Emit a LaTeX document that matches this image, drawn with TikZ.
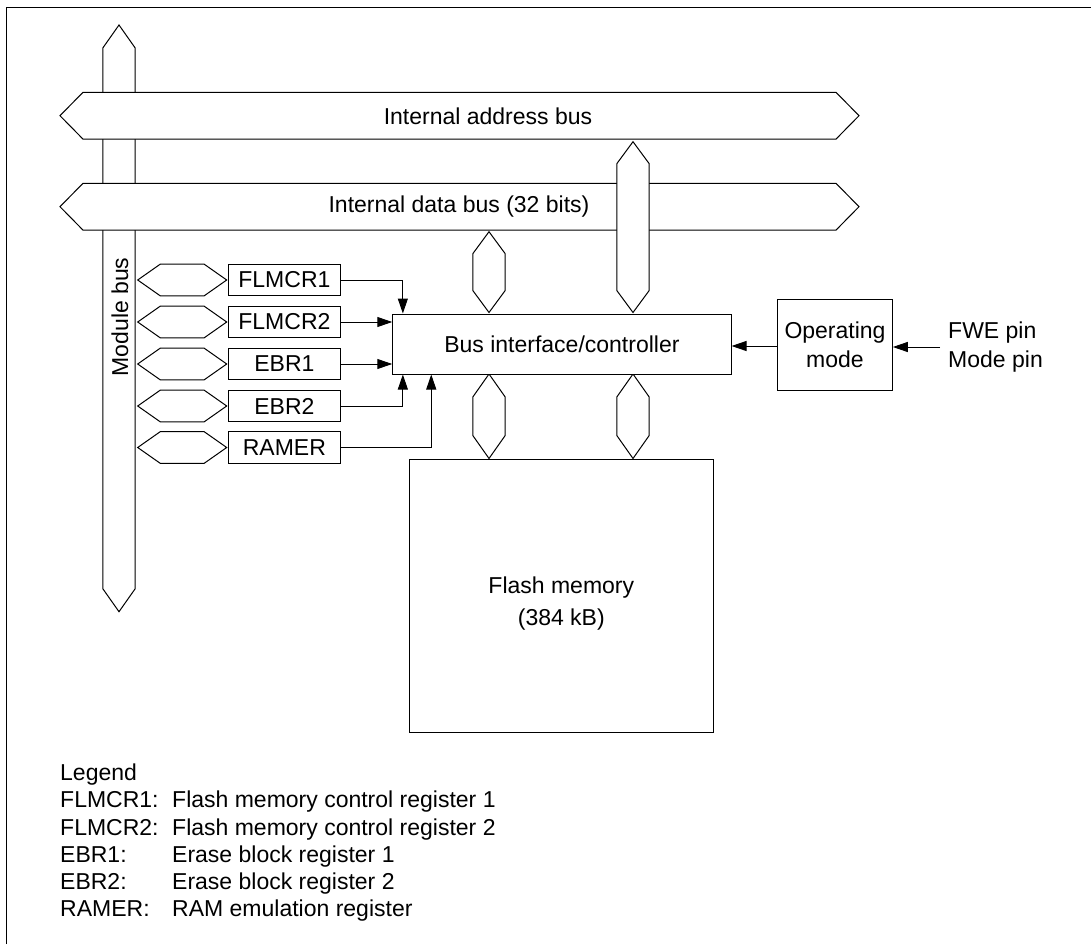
\documentclass[tikz,border=0pt]{standalone}
\usepackage{fontspec}
\setmainfont{Liberation Sans}
\usetikzlibrary{arrows.meta,positioning,calc}
\tikzset{
  bus/.style={draw, line width=1pt, fill=white, line join=miter},
  regbox/.style={draw, line width=1pt, fill=white, minimum width=111.3pt,
                 minimum height=31.7pt, inner sep=0pt},
  blockbox/.style={draw, line width=1pt, fill=white, inner sep=0pt, align=center},
  lbl/.style={inner sep=0pt, align=center},
  arr/.style={-{Triangle[length=15pt,width=10pt]}, line width=1pt}}
% horizontal bus: x left, x right, y centre, half height, tip depth
\newcommand{\hbus}[5]{\draw[bus] (#1,#3) -- (#1+#5,#3-#4) -- (#2-#5,#3-#4) -- (#2,#3)
  -- (#2-#5,#3+#4) -- (#1+#5,#3+#4) -- cycle;}
% vertical bus: y top, y bottom, x centre, half width, tip depth
\newcommand{\vbus}[5]{\draw[bus] (#3,#1) -- (#3+#4,#1+#5) -- (#3+#4,#2-#5) -- (#3,#2)
  -- (#3-#4,#2-#5) -- (#3-#4,#1+#5) -- cycle;}
\begin{document}
\begin{tikzpicture}[x=1pt, y=-1pt, font=\fontsize{23}{29}\selectfont]
    \useasboundingbox (0,0) rectangle (1091,944);
    \draw[line width=1pt] (6,944) -- (6,8) -- (1091,8);
    % buses
    \vbus{25}{611.7}{119}{16.2}{23}
    \hbus{60}{859}{115.7}{23.4}{23}
    \hbus{60}{859}{206.7}{23.4}{23}
    \vbus{141.7}{312.5}{633}{16.2}{22}
    \vbus{231.7}{312.5}{489}{16.2}{22}
    \vbus{374}{458.5}{489}{16.2}{23}
    \vbus{374}{458.5}{633}{16.2}{23}
    \node[lbl] (addrbus) at (488,116) {Internal address bus};
    \node[lbl] (databus) at (459,207) {Internal data bus (32 bits)};
    \node[lbl, rotate=90] (modbus) at (120,317) {Module bus};
    % registers
    \foreach \name/\txt/\y in {flmcr1/FLMCR1/280, flmcr2/FLMCR2/322, ebr1/EBR1/364,
                               ebr2/EBR2/406, ramer/RAMER/447.5} {
      \hbus{137.7}{226.7}{\y}{15.8}{22.5}
      \node[regbox] (\name) at (284.4,\y) {\txt};
    }
    \node[blockbox, minimum width=338.3pt, minimum height=60pt] (iface) at (561.9,344)
      {Bus interface/controller};
    \node[blockbox, minimum width=114.6pt, minimum height=90.7pt] (opmode) at (835,344.7)
      {Operating\\mode};
    \node[blockbox, minimum width=304pt, minimum height=272.7pt,
          label={[lbl, yshift=-7pt]center:{Flash memory\\[3pt](384 kB)}}] (flash) at (561.3,596.3) {};
    \node[lbl, align=left, anchor=west] (pins) at (948,347) {FWE pin\\Mode pin};
    \draw[arr] (flmcr1.east) -| ($(iface.north west)+(10.6,0)$);
    \draw[arr] (flmcr2.east) -- (flmcr2.east -| iface.west);
    \draw[arr] (ebr1.east) -- (ebr1.east -| iface.west);
    \draw[arr] (ebr2.east) -| ($(iface.south west)+(10.6,0)$);
    \draw[arr] (ramer.east) -| ($(iface.south west)+(39,0)$);
    \draw[arr] (opmode.west |- 0,346) -- (iface.east |- 0,346);
    \draw[arr] ($(pins.west)+(-8,0)$) -- (opmode.east |- pins.west);
    % legend
    \node[inner sep=0pt, anchor=base west] (legend) at (60,780.6) {Legend};
    \foreach \i/\term/\desc in {1/FLMCR1:/Flash memory control register 1,
                                2/FLMCR2:/Flash memory control register 2,
                                3/EBR1:/Erase block register 1,
                                4/EBR2:/Erase block register 2,
                                5/RAMER:/RAM emulation register} {
      \node[inner sep=0pt, anchor=base west] (term\i) at (60,780.6+27.2*\i) {\term};
      \node[inner sep=0pt, anchor=base west] (desc\i) at (172,780.6+27.2*\i) {\desc};
    }
\end{tikzpicture}
\end{document}
